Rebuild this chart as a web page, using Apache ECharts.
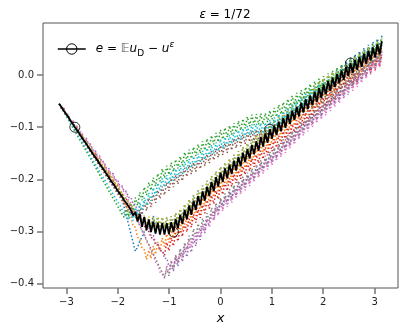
<!DOCTYPE html>
<html>
<head>
<meta charset="utf-8">
<script src="https://cdn.jsdelivr.net/npm/echarts@6/dist/echarts.min.js"></script>
<style>
html, body { margin: 0; padding: 0; background: #fff; }
#chart { width: 405px; height: 333px; }
</style>
</head>
<body>
<div id="chart"></div>
<script>
// x grid, -pi .. pi
const xs = [-3.142,-3.098,-3.054,-3.011,-2.967,-2.923,-2.880,-2.836,-2.793,-2.749,-2.705,-2.662,-2.618,-2.574,-2.531,-2.487,-2.443,-2.400,-2.356,-2.313,-2.269,-2.225,-2.182,-2.138,-2.094,-2.051,-2.007,-1.963,-1.920,-1.876,-1.833,-1.789,-1.745,-1.702,-1.658,-1.614,-1.571,-1.527,-1.484,-1.440,-1.396,-1.353,-1.309,-1.265,-1.222,-1.178,-1.134,-1.091,-1.047,-1.004,-0.960,-0.916,-0.873,-0.829,-0.785,-0.742,-0.698,-0.654,-0.611,-0.567,-0.524,-0.480,-0.436,-0.393,-0.349,-0.305,-0.262,-0.218,-0.175,-0.131,-0.087,-0.044,0,0.044,0.087,0.131,0.175,0.218,0.262,0.305,0.349,0.393,0.436,0.480,0.524,0.567,0.611,0.654,0.698,0.742,0.785,0.829,0.873,0.916,0.960,1.004,1.047,1.091,1.134,1.178,1.222,1.265,1.309,1.353,1.396,1.440,1.484,1.527,1.571,1.614,1.658,1.702,1.745,1.789,1.833,1.876,1.920,1.963,2.007,2.051,2.094,2.138,2.182,2.225,2.269,2.313,2.356,2.400,2.443,2.487,2.531,2.574,2.618,2.662,2.705,2.749,2.793,2.836,2.880,2.923,2.967,3.011,3.054,3.098,3.142];

// e = E u_D - u^eps (black)
const meanErr = [-.055,-.061,-.068,-.074,-.080,-.087,-.093,-.100,-.106,-.112,-.119,-.125,-.131,-.138,-.144,-.151,-.157,-.163,-.170,-.176,-.182,-.189,-.195,-.202,-.208,-.214,-.221,-.227,-.233,-.240,-.246,-.252,-.259,
-.269,-.263,-.281,-.266,-.291,-.272,-.297,-.277,-.301,-.281,-.304,-.283,-.306,-.284,-.306,-.284,-.305,-.282,-.301,-.276,-.294,-.268,-.286,-.259,-.277,-.250,-.268,-.241,-.259,-.232,-.250,-.223,-.241,-.214,-.232,-.205,-.223,-.196,-.214,-.187,-.205,-.179,-.198,-.172,-.190,-.164,-.183,-.157,-.175,-.149,-.167,-.142,-.160,-.134,-.152,-.127,-.145,-.119,-.137,-.112,-.130,-.104,-.122,-.097,-.115,-.090,-.108,-.082,-.101,-.075,-.094,-.068,-.086,-.061,-.079,-.053,-.072,-.046,-.065,-.039,-.058,-.032,-.051,-.025,-.044,-.018,-.037,-.011,-.030,-.005,-.023,.002,-.016,.009,-.009,.016,-.002,.023,.004,.029,.010,.035,.016,.041,.022,.047,.028,.053,.034,.059,.040,.065];

// sample runs (dotted)
const runBlue = [-.055,-.062,-.068,-.075,-.081,-.088,-.094,-.101,-.107,-.114,-.120,-.127,-.133,-.140,-.146,-.153,-.159,-.166,-.172,-.179,-.185,-.192,-.198,-.205,-.211,-.218,-.224,-.231,-.237,-.253,-.270,-.287,-.304,-.321,-.338,-.330,-.318,-.311,-.300,-.298,-.284,-.290,
-.270,-.291,-.272,-.293,-.273,-.293,-.273,-.292,-.271,-.288,-.265,-.281,-.257,-.273,-.248,-.264,-.239,-.255,-.230,-.246,-.221,-.237,-.212,-.228,-.203,-.219,-.194,-.210,-.185,-.201,-.176,-.192,-.168,-.185,-.161,-.177,-.153,-.170,-.146,-.162,-.138,-.154,-.131,-.147,-.123,-.139,-.116,-.132,-.108,-.124,-.101,-.117,-.093,-.109,-.086,-.102,-.079,-.095,-.071,-.088,-.064,-.081,-.057,-.073,-.050,-.066,-.042,-.059,-.035,-.052,-.028,-.045,-.021,-.038,-.014,-.031,-.007,-.024,.000,-.017,.006,-.010,.013,-.003,.020,.004,.027,.011,.034,.017,.040,.023,.046,.029,.052,.035,.058,.041,.064,.047,.070,.053,.076];
const runOrange = [-.055,-.064,-.064,-.076,-.076,-.088,-.088,-.100,-.100,-.112,-.112,-.124,-.124,-.136,-.136,-.148,-.148,-.160,-.160,-.172,-.172,-.184,-.184,-.196,-.196,-.208,-.208,
-.226,-.228,-.247,-.250,-.268,-.271,-.290,-.292,-.311,-.314,-.333,-.335,-.354,-.336,-.352,-.328,-.344,-.320,-.337,-.313,-.329,-.305,-.321,-.297,-.313,-.289,-.305,
-.281,-.297,-.272,-.288,-.263,-.279,-.254,-.270,-.245,-.261,-.236,-.252,-.227,-.243,-.218,-.234,-.209,-.225,-.200,-.216,-.192,-.209,-.185,-.201,-.177,-.194,-.170,-.186,-.162,-.178,-.155,-.171,-.147,-.163,-.140,-.156,-.132,-.148,-.125,-.141,-.117,-.133,-.110,-.126,-.103,-.119,-.095,-.112,-.088,-.105,-.081,-.097,-.074,-.090,-.066,-.083,-.059,-.076,-.052,-.069,-.045,-.062,-.038,-.055,-.031,-.048,-.024,-.041,-.018,-.034,-.011,-.027,-.004,-.020,.003,-.013,.010,-.007,.016,-.001,.022,.005,.028,.011,.034,.017,.040,.023,.046,.029,.052];
const runGreen = [-.055,-.063,-.070,-.078,-.085,-.093,-.100,-.108,-.115,-.123,-.130,-.138,-.145,-.153,-.160,-.168,-.175,-.183,-.191,-.198,-.206,-.213,-.221,-.228,-.236,-.243,-.251,-.258,-.266,-.273,
-.257,-.272,-.246,-.260,-.235,-.250,-.225,-.240,-.215,-.230,-.206,-.221,-.197,-.213,-.189,-.204,-.180,-.197,-.174,-.191,-.168,-.185,-.162,-.179,-.156,-.173,-.148,-.165,-.143,-.160,-.138,-.155,-.133,-.150,-.127,-.144,-.122,-.139,-.116,-.133,-.111,-.128,-.105,-.123,-.101,-.119,-.097,-.114,-.092,-.110,-.088,-.106,-.084,-.102,-.080,-.098,-.076,-.096,-.075,-.095,-.074,-.094,-.073,-.090,-.068,-.085,-.063,-.080,-.057,-.075,-.052,-.069,-.046,-.063,-.040,-.057,-.034,-.052,-.029,-.046,-.023,-.040,-.017,-.035,-.012,-.030,-.007,-.025,-.002,-.020,.003,-.015,.008,-.009,.014,-.003,.020,.003,.025,.008,.031,.014,.037,.020,.043,.026,.049,.032,.054,.037,.060,.043,.066,.049,.072];
const runRed = [-.055,-.064,-.064,-.077,-.077,-.089,-.089,-.101,-.102,-.114,-.114,-.126,-.126,-.139,-.139,-.151,-.151,-.163,-.164,-.176,-.176,-.188,-.188,-.201,-.201,-.213,-.213,-.225,-.226,-.238,-.238,-.250,-.250,-.263,-.263,-.275,-.275,-.287,-.288,-.300,-.300,-.312,-.312,-.325,-.325,-.337,-.337,
-.346,-.321,-.337,-.312,-.328,-.303,-.319,-.294,-.310,-.285,
-.301,-.276,-.292,-.267,-.283,-.258,-.274,-.249,-.265,-.240,-.256,-.231,-.247,-.222,-.238,-.213,-.229,-.205,-.222,-.198,-.214,-.190,-.207,-.183,-.199,-.175,-.191,-.168,-.184,-.160,-.176,-.153,-.169,-.145,-.161,-.138,-.154,-.130,-.146,-.123,-.139,-.116,-.132,-.108,-.125,-.101,-.118,-.094,-.110,-.087,-.103,-.079,-.096,-.072,-.089,-.065,-.082,-.058,-.075,-.051,-.068,-.044,-.061,-.037,-.054,-.031,-.047,-.024,-.040,-.017,-.033,-.010,-.026,-.003,-.020,.003,-.014,.009,-.008,.015,-.002,.021,.004,.027,.010,.033,.016,.039];
const runPurple = [-.055,-.064,-.063,-.075,-.075,-.087,-.086,-.098,-.098,-.109,-.109,-.121,-.120,-.132,-.132,-.144,-.143,-.155,-.155,-.166,-.166,-.178,-.177,-.189,-.189,-.201,-.200,-.212,-.212,-.223,-.223,-.235,-.234,
-.248,-.248,-.263,-.263,-.278,-.277,-.293,-.292,-.308,-.307,-.322,-.322,-.337,-.336,-.352,-.351,-.367,-.366,
-.376,-.351,-.367,-.342,-.358,-.333,-.349,-.324,-.340,-.314,-.328,-.302,-.316,-.289,-.303,-.277,-.291,-.265,-.278,-.252,-.266,-.240,-.256,-.232,-.248,-.224,-.240,-.216,-.232,-.208,-.224,-.200,-.216,-.192,-.208,-.184,-.200,-.176,-.192,-.168,-.184,-.160,-.176,-.152,-.168,-.144,-.160,-.136,-.152,-.128,-.144,-.120,-.136,-.112,-.128,-.103,-.119,-.095,-.111,-.087,-.103,-.079,-.095,-.071,-.087,-.063,-.080,-.056,-.072,-.048,-.064,-.040,-.056,-.032,-.049,-.025,-.041,-.017,-.033,-.009,-.025,-.001,-.018,.006,-.010,.014,-.002,.022,.006,.030,.013,.037,.021,.045];
const runBrown = [-.055,-.062,-.068,-.075,-.081,-.088,-.095,-.101,-.108,-.114,-.121,-.128,-.134,-.141,-.147,-.154,-.161,-.167,-.174,-.180,-.187,-.194,-.200,-.207,-.213,-.220,-.227,-.233,-.240,-.246,-.253,-.260,-.266,-.273,
-.259,-.275,-.252,-.268,-.244,-.260,-.236,-.253,-.229,-.245,-.221,-.237,-.214,-.230,-.206,-.222,-.198,-.215,-.192,-.209,-.186,-.203,-.178,-.195,-.173,-.190,-.168,-.185,-.163,-.180,-.157,-.174,-.152,-.169,-.146,-.163,-.141,-.158,-.135,-.153,-.131,-.149,-.127,-.144,-.122,-.140,-.118,-.136,-.114,-.132,-.110,-.128,-.106,-.126,-.105,-.125,-.104,-.124,-.103,-.120,-.098,-.115,-.093,-.110,-.087,-.105,-.082,-.099,-.076,-.093,-.070,-.087,-.064,-.082,-.059,-.076,-.053,-.070,-.047,-.065,-.041,-.059,-.035,-.053,-.029,-.047,-.023,-.041,-.017,-.034,-.010,-.027,-.003,-.020,.003,-.014,.010,-.006,.017,.001,.024,.008,.031,.015,.037,.021,.044,.028,.051,.035,.058];
const runPink = [-.055,-.064,-.064,-.075,-.075,-.087,-.087,-.099,-.098,-.110,-.110,-.122,-.122,-.133,-.133,-.145,-.145,-.157,-.156,-.168,-.168,-.180,-.180,-.191,-.191,-.203,-.203,-.215,-.214,-.226,-.226,-.242,-.246,-.261,-.265,-.281,-.285,-.300,-.304,-.320,-.324,-.339,-.343,-.359,-.363,-.378,-.382,
-.390,-.365,-.380,-.355,-.370,-.345,-.360,-.335,-.350,-.325,-.340,-.315,-.330,-.305,-.320,-.295,-.310,-.285,-.300,-.275,-.290,-.265,-.280,-.255,-.270,-.245,-.261,-.237,-.253,-.229,-.245,-.221,-.237,-.213,-.229,-.205,-.221,-.197,-.213,-.189,-.205,-.181,-.197,-.173,-.189,-.165,-.181,-.157,-.173,-.149,-.165,-.141,-.157,-.133,-.149,-.125,-.141,-.117,-.133,-.108,-.124,-.100,-.116,-.092,-.108,-.084,-.100,-.076,-.092,-.068,-.085,-.061,-.077,-.053,-.069,-.045,-.061,-.037,-.054,-.030,-.046,-.022,-.038,-.014,-.030,-.006,-.023,.001,-.015,.009,-.007,.017,.001,.025,.008,.032,.016,.040];
const runGray = [-.055,-.061,-.067,-.073,-.079,-.086,-.092,-.098,-.104,-.110,-.116,-.122,-.128,-.134,-.140,-.147,-.153,-.159,-.165,-.171,-.177,-.183,-.189,-.195,-.201,-.208,-.214,-.220,-.226,-.232,-.238,-.244,-.253,-.262,-.271,-.280,-.289,-.298,-.307,-.316,-.325,-.334,-.343,-.352,-.361,-.370,-.379,-.388,
-.372,-.385,-.359,-.373,-.346,-.360,-.333,-.347,-.321,-.334,-.308,-.321,-.295,
-.310,-.285,-.300,-.275,-.290,-.265,-.280,-.255,-.270,-.245,-.260,-.235,-.251,-.227,-.243,-.219,-.235,-.211,-.227,-.203,-.219,-.195,-.211,-.187,-.203,-.179,-.195,-.171,-.187,-.163,-.179,-.155,-.171,-.147,-.163,-.139,-.155,-.131,-.147,-.123,-.139,-.115,-.131,-.107,-.123,-.098,-.114,-.090,-.106,-.082,-.098,-.074,-.090,-.066,-.082,-.058,-.075,-.051,-.067,-.043,-.059,-.035,-.051,-.027,-.044,-.020,-.036,-.012,-.028,-.004,-.020,.004,-.013,.011,-.005,.019,.003,.027,.011,.035,.018,.042,.026,.050];
const runOlive = [-.055,-.061,-.067,-.073,-.079,-.086,-.092,-.098,-.104,-.110,-.116,-.122,-.128,-.134,-.140,-.147,-.153,-.159,-.165,-.171,-.177,-.183,-.189,-.195,-.201,-.208,-.214,-.220,-.226,-.232,-.238,-.244,-.250,-.256,-.262,-.269,-.275,
-.287,-.269,-.290,-.271,-.292,-.272,-.292,-.272,-.293,-.273,-.293,-.273,-.292,-.271,-.288,-.265,-.281,-.257,-.273,-.248,-.264,-.239,-.255,-.230,-.246,-.221,-.237,-.212,-.228,-.203,-.219,-.194,-.210,-.185,-.201,-.176,-.192,-.168,-.185,-.161,-.177,-.153,-.170,-.146,-.162,-.138,-.154,-.131,-.147,-.123,-.139,-.116,-.132,-.108,-.124,-.101,-.117,-.093,-.109,-.086,-.102,-.079,-.095,-.071,-.088,-.064,-.081,-.057,-.073,-.050,-.066,-.042,-.059,-.035,-.052,-.028,-.045,-.021,-.038,-.014,-.031,-.007,-.024,.000,-.017,.006,-.010,.007,-.009,.014,-.002,.021,.005,.028,.011,.034,.017,.040,.023,.046,.029,.052,.035,.058,.041,.064,.047,.070];
const runCyan = [-.055,-.062,-.069,-.077,-.084,-.091,-.098,-.105,-.113,-.120,-.127,-.134,-.141,-.149,-.156,-.163,-.170,-.177,-.185,-.192,-.199,-.206,-.213,-.221,-.228,-.235,-.242,-.249,-.257,-.264,-.271,-.278,
-.263,-.279,-.254,-.269,-.244,-.260,-.235,-.250,-.226,-.241,-.216,-.232,-.207,-.222,-.198,-.215,-.192,-.209,-.186,-.203,-.180,-.197,-.174,-.191,-.166,-.183,-.161,-.178,-.156,-.173,-.151,-.168,-.145,-.162,-.140,-.157,-.134,-.151,-.129,-.146,-.123,-.141,-.119,-.137,-.115,-.132,-.110,-.128,-.106,-.124,-.102,-.120,-.098,-.116,-.094,-.114,-.093,-.113,-.092,-.112,-.091,-.108,-.086,-.103,-.081,-.098,-.075,-.093,-.070,-.087,-.063,-.080,-.056,-.073,-.049,-.067,-.043,-.060,-.036,-.053,-.029,-.047,-.024,-.041,-.018,-.036,-.013,-.031,-.007,-.025,-.002,-.019,.004,-.012,.011,-.006,.016,-.001,.023,.006,.029,.012,.035,.019,.042,.025,.047,.030,.053,.037,.060,.043,.066];

const runs = [runBlue, runOrange, runGreen, runRed, runPurple, runBrown, runPink, runGray, runOlive, runCyan];
const runColors = ['#1f77b4', '#ff7f0e', '#2ca02c', '#d62728', '#9467bd', '#8c564b', '#e377c2', '#7f7f7f', '#bcbd22', '#17becf'];
const markerIdx = [7, 51, 94, 130];
const xTicks = [-3, -2, -1, 0, 1, 2, 3];
const yTicks = [-0.4, -0.3, -0.2, -0.1, 0];

const font = 'DejaVu Sans';
const minusFmt = (v, d) => (v < -1e-9 ? '\u2212' : '') + Math.abs(v).toFixed(d);
const pairs = ys => xs.map((x, i) => [x, ys[i]]);

const series = runs.map((ys, k) => ({
  name: 'run' + k,
  type: 'line',
  data: pairs(ys),
  symbol: 'none',
  showSymbol: false,
  silent: true,
  lineStyle: { color: runColors[k], width: 1.5, type: [1.5, 2.2], cap: 'butt' },
  z: 2
}));
series.push({
  name: 'e',
  type: 'line',
  data: pairs(meanErr),
  symbol: 'circle',
  showSymbol: false,
  silent: true,
  lineStyle: { color: '#000', width: 1.8 },
  itemStyle: { color: '#000' },
  z: 3
});
series.push({
  type: 'scatter',
  data: markerIdx.map(i => [xs[i], meanErr[i]]),
  symbol: 'circle',
  symbolSize: 10,
  silent: true,
  itemStyle: { color: 'rgba(0,0,0,0)', borderColor: '#000', borderWidth: 1 },
  z: 4
});

const chart = echarts.init(document.getElementById('chart'));
chart.setOption({
  animation: false,
  title: {
    text: '{i|\u03b5} = 1/72',
    left: 220,
    textAlign: 'center',
    top: 4,
    textStyle: {
      fontFamily: font, fontSize: 12, fontWeight: 'normal', color: '#000',
      rich: { i: { fontFamily: font, fontSize: 12, fontStyle: 'italic', color: '#000' } }
    }
  },
  legend: {
    data: ['e'],
    left: 52,
    top: 35,
    itemWidth: 28,
    itemHeight: 13,
    itemStyle: { color: 'rgba(0,0,0,0)', borderColor: '#000', borderWidth: 1 },
    lineStyle: { color: '#000', width: 1.5 },
    formatter: () => '{sp|}{i|e} = {bb|\ud835\udd3c}{i|u}{sub|D} \u2212 {i|u}{sup|\u03b5}',
    textStyle: {
      fontFamily: font, fontSize: 12, color: '#000', lineHeight: 18,
      rich: {
        sp: { width: 5 },
        i: { fontFamily: font, fontSize: 12, fontStyle: 'italic', color: '#000' },
        bb: { fontFamily: font, fontSize: 12, color: '#555' },
        sub: { fontFamily: font, fontSize: 9, color: '#000', verticalAlign: 'bottom' },
        sup: { fontFamily: font, fontSize: 9, fontStyle: 'italic', color: '#000', verticalAlign: 'top' }
      }
    }
  },
  grid: {
    left: 43, right: 7, top: 23, bottom: 45,
    show: true, borderColor: '#555', borderWidth: 1, backgroundColor: 'transparent'
  },
  xAxis: {
    type: 'value',
    min: -3.456,
    max: 3.456,
    axisLine: { show: false, onZero: false },
    splitLine: { show: false },
    axisTick: { show: true, customValues: xTicks, length: 6, lineStyle: { color: '#777', width: 1.5 } },
    axisLabel: { customValues: xTicks, formatter: v => minusFmt(v, 0), fontFamily: font, fontSize: 10, color: '#222', margin: 9 },
    name: 'x',
    nameLocation: 'middle',
    nameGap: 22,
    nameTextStyle: { fontFamily: font, fontSize: 13, fontStyle: 'italic', color: '#000' }
  },
  yAxis: {
    type: 'value',
    min: -0.4085,
    max: 0.1,
    axisLine: { show: false, onZero: false },
    splitLine: { show: false },
    axisTick: { show: true, customValues: yTicks, length: 6, lineStyle: { color: '#777', width: 1.5 } },
    axisLabel: { customValues: yTicks, formatter: v => minusFmt(v, 1), fontFamily: font, fontSize: 10, color: '#222', margin: 9 }
  },
  series: series
});
</script>
</body>
</html>
